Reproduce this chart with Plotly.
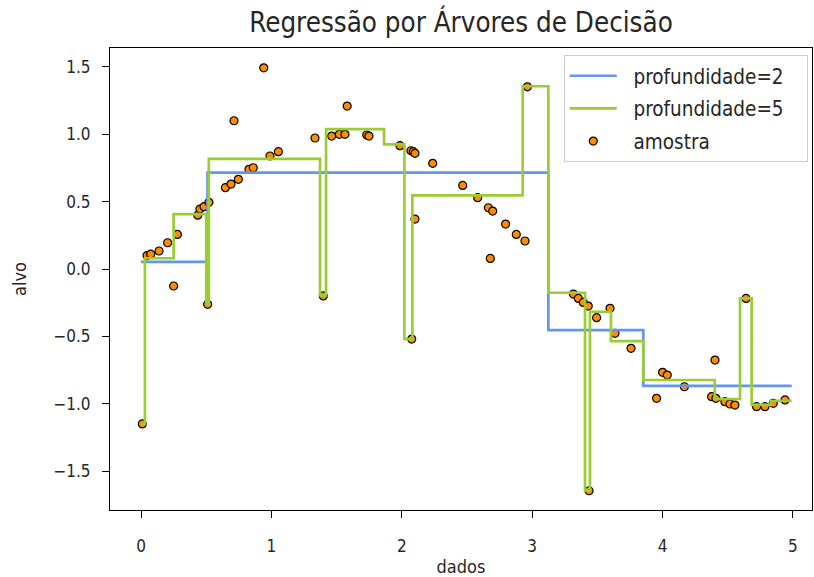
import plotly.graph_objects as go

# sample points (dados, alvo)
x_amostra = [0.01, 0.046, 0.074, 0.138, 0.204, 0.250, 0.279, 0.435, 0.452, 0.483,
             0.511, 0.521, 0.647, 0.690, 0.713, 0.746, 0.828, 0.861, 0.941, 0.989,
             1.053, 1.334, 1.398, 1.462, 1.521, 1.564, 1.581, 1.731, 1.748, 1.986,
             2.070, 2.076, 2.088, 2.101, 2.101, 2.237, 2.467, 2.582, 2.664, 2.679,
             2.697, 2.796, 2.878, 2.945, 2.963, 3.316, 3.354, 3.392, 3.430, 3.436,
             3.494, 3.597, 3.635, 3.758, 3.954, 4.000, 4.036, 4.167, 4.376, 4.402,
             4.409, 4.478, 4.517, 4.555, 4.640, 4.721, 4.785, 4.849, 4.939]
y_amostra = [-1.15, 0.10, 0.11, 0.134, 0.195, -0.126, 0.257, 0.40, 0.445, 0.463,
             -0.262, 0.495, 0.604, 0.631, 1.101, 0.666, 0.74, 0.752, 1.494, 0.839,
             0.871, 0.973, -0.20, 0.987, 1.0, 1.0, 1.21, 0.995, 0.987, 0.916,
             0.878, -0.52, 0.871, 0.859, 0.371, 0.785, 0.621, 0.53, 0.455, 0.079,
             0.43, 0.334, 0.257, 0.208, 1.353, -0.186, -0.218, -0.248, -0.275, -1.646,
             -0.361, -0.292, -0.477, -0.589, -0.96, -0.767, -0.787, -0.874, -0.948, -0.676,
             -0.96, -0.985, -1.002, -1.01, -0.218, -1.022, -1.022, -0.997, -0.972]

# depth-2 tree prediction: breakpoints and levels
x_prof2 = [0.0, 0.51, 3.124, 3.852, 4.99]
y_prof2 = [0.053, 0.716, -0.453, -0.867, -0.867]

# depth-5 tree prediction: breakpoints and levels
x_prof5 = [0.0, 0.03, 0.25, 0.50, 0.52, 1.373, 1.419, 1.864, 2.02, 2.081,
           2.927, 3.124, 3.405, 3.443, 3.604, 3.852, 4.40, 4.594, 4.683, 4.83, 4.99]
y_prof5 = [-1.15, 0.08, 0.408, -0.262, 0.818, -0.195, 1.039, 0.926, -0.52, 0.547,
           1.357, -0.176, -1.646, -0.317, -0.535, -0.824, -0.965, -0.218, -1.008, -0.978,
           -0.978]

x_ticks = [0, 1, 2, 3, 4, 5]
y_ticks = [1.5, 1.0, 0.5, 0.0, -0.5, -1.0, -1.5]
y_ticktext = ["1.5", "1.0", "0.5", "0.0", "\u22120.5", "\u22121.0", "\u22121.5"]

FONT = "DejaVu Sans Condensed, DejaVu Sans"
TXT = "#262626"
PAD_L = "\u00a0\u00a0"
PAD_R = "\u00a0\u00a0\u00a0"

fig = go.Figure()
fig.add_trace(go.Scatter(
    x=x_amostra, y=y_amostra, mode="markers", name=PAD_L + "amostra", legendrank=3, legendgroup="c",
    marker=dict(color="darkorange", size=8, line=dict(color="black", width=1.2)),
))
fig.add_trace(go.Scatter(
    x=x_prof2, y=y_prof2, mode="lines", name=PAD_L + "profundidade=2" + PAD_R, legendrank=1,
    legendgroup="a", line=dict(color="cornflowerblue", width=2.7, shape="hv"),
))
fig.add_trace(go.Scatter(
    x=x_prof5, y=y_prof5, mode="lines", name=PAD_L + "profundidade=5" + PAD_R, legendrank=2,
    legendgroup="b", line=dict(color="yellowgreen", width=2.7, shape="hv"),
))

axis_common = dict(
    showline=True, linecolor="black", linewidth=1, mirror=True,
    ticks="outside", ticklen=7, tickcolor="black", tickwidth=1,
    showgrid=False, zeroline=False,
    tickfont=dict(family=FONT, size=17, color=TXT),
)

fig.update_layout(
    width=814, height=577,
    margin=dict(l=110, r=2, t=48, b=67),
    plot_bgcolor="white", paper_bgcolor="white",
    title=dict(text="Regressão por Árvores de Decisão", x=461 / 814, xanchor="center",
               y=1 - 22 / 577, yanchor="middle",
               font=dict(family=FONT, size=27.5, color=TXT)),
    xaxis=dict(range=[-0.238, 5.146], tickvals=x_ticks, ticklabelstandoff=14,
               title=dict(text="dados", font=dict(family=FONT, size=18, color=TXT), standoff=6),
               **axis_common),
    yaxis=dict(range=[-1.789, 1.641], tickvals=y_ticks, ticktext=y_ticktext, ticklabelstandoff=8,
               title=dict(text="alvo", font=dict(family=FONT, size=18, color=TXT), standoff=22),
               **axis_common),
    legend=dict(x=0.994, y=0.985, xanchor="right", yanchor="top",
                bgcolor="rgba(255,255,255,0.8)", bordercolor="#cccccc", borderwidth=1,
                font=dict(family=FONT, size=20.5, color=TXT),
                itemwidth=47, tracegroupgap=3),
    showlegend=True,
)

fig.write_html("out.html")
